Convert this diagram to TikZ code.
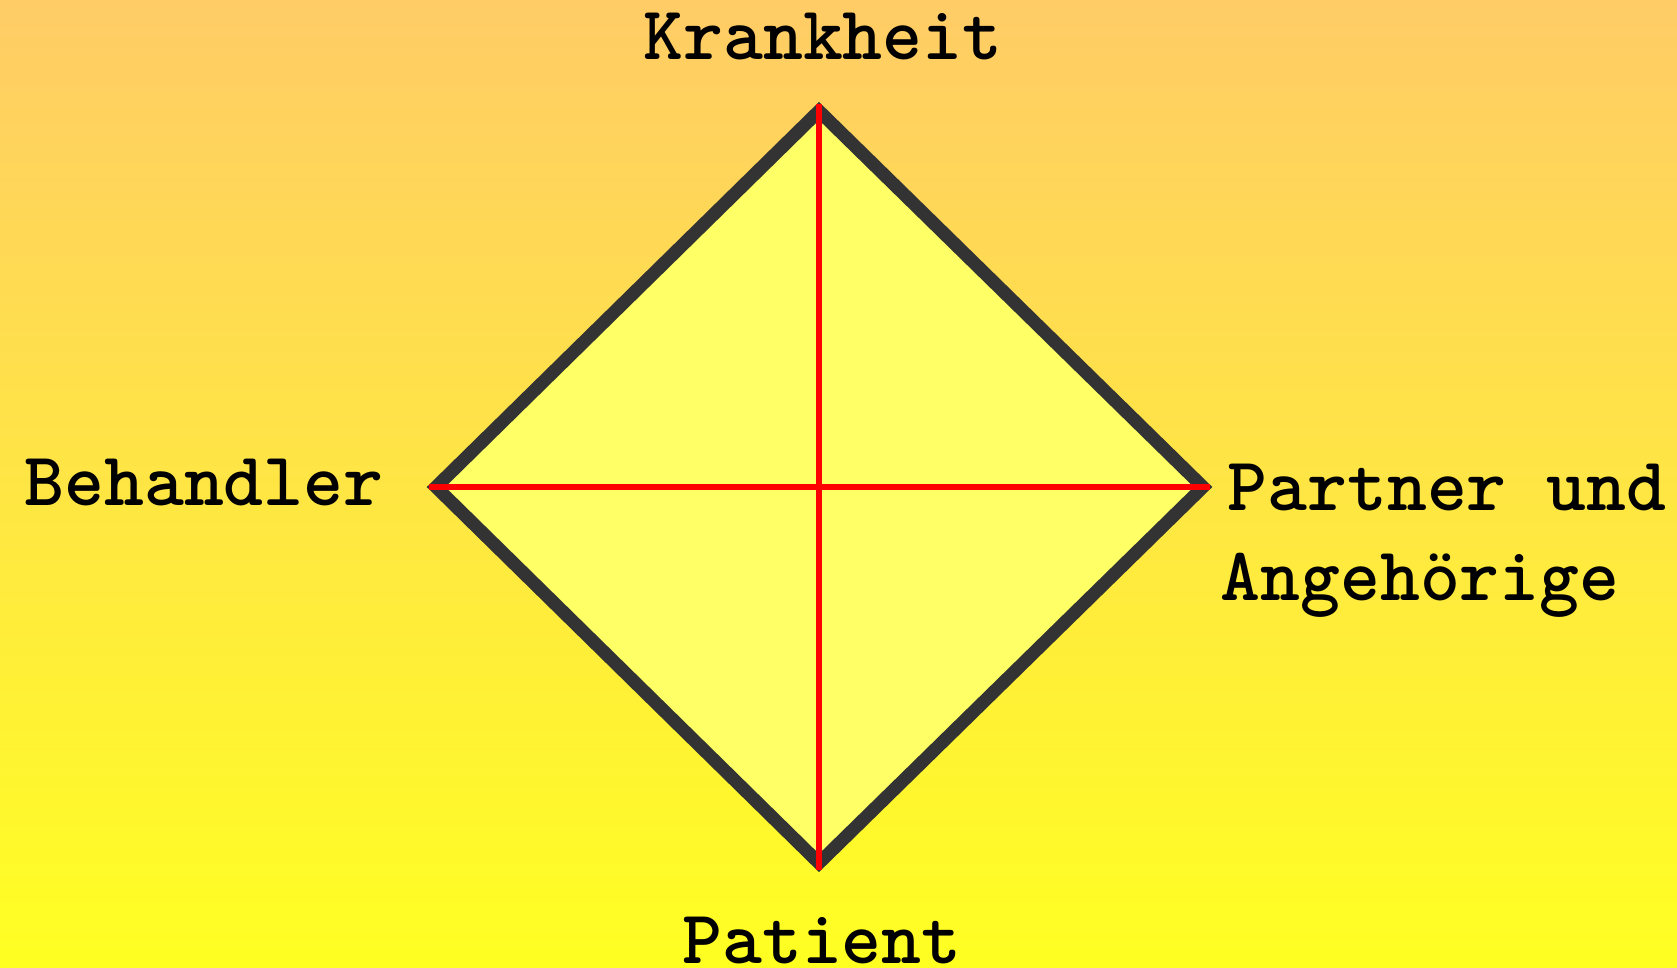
\documentclass[tikz,border=0pt]{standalone}
\usepackage{fontspec}
\definecolor{bgtop}{HTML}{FFCC66}
\definecolor{bgbot}{HTML}{FFFF22}
\definecolor{dfill}{HTML}{FFFF66}
\definecolor{dline}{HTML}{333333}
\tikzset{
  lbl/.style={anchor=base, inner sep=0pt, font=\ttfamily\bfseries\fontsize{38}{42}\selectfont\addfontfeature{FakeBold=1.2}},
  rim/.style={draw=dline, line width=6.5pt, fill=dfill, line join=miter},
  cross/.style={draw=red, line width=3pt, shorten <=-3.5pt, shorten >=-3.5pt}
}
\begin{document}
\begin{tikzpicture}[x=0.5pt,y=-0.5pt]
\useasboundingbox (0,0) rectangle (1677,968);
\shade[top color=bgtop, bottom color=bgbot] (0,0) rectangle (1677,968);
\coordinate (T) at (819,111);
\coordinate (B) at (819,863);
\coordinate (L) at (436,487);
\coordinate (R) at (1203,487);
\path[rim] (T) -- (R) -- (B) -- (L) -- cycle;
\draw[cross] (T) -- (B);
\draw[cross] (L) -- (R);
\node[lbl] (k) at (823,60) {Krankheit};
\node[lbl] (b) at (204,505) {Behandler};
\node[lbl] (p1) at (1447,510) {Partner und};
\node[lbl] (p2) at (1420,600) {Angehörige};
\node[lbl] (pt) at (822,963) {Patient};
\end{tikzpicture}
\end{document}
